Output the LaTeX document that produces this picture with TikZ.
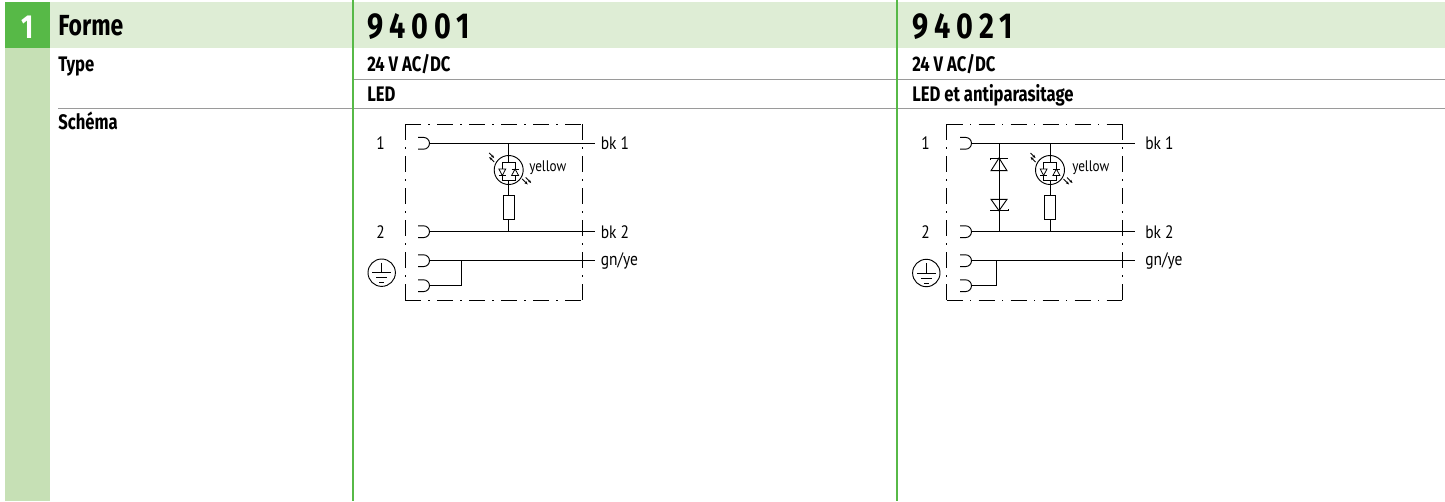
\documentclass[tikz,border=0pt]{standalone}
\usepackage{fontspec}
\setmainfont[FakeStretch=0.86,BoldFont={Fira Sans Bold},BoldFeatures={FakeStretch=0.79}]{PT Sans}
\newfontfamily\digitfont[FakeStretch=0.8,LetterSpace=17]{Fira Sans Bold}
\usetikzlibrary{arrows.meta}
\definecolor{boxgreen}{HTML}{57B947}
\definecolor{stripgreen}{HTML}{C6E0B5}
\definecolor{bandgreen}{HTML}{DEEDD5}
\definecolor{rulegrey}{HTML}{9A9A9A}
\tikzset{
    headtext/.style={anchor=base west,inner sep=0pt,font=\fontsize{21.8}{24}\selectfont\bfseries},
    numtext/.style={anchor=base west,inner sep=0pt,font=\digitfont\fontsize{27}{30}\selectfont},
    rowtext/.style={anchor=base west,inner sep=0pt,font=\fontsize{15.8}{18}\selectfont\bfseries},
    schtext/.style={anchor=base west,inner sep=0pt,font=\fontsize{13.5}{15}\selectfont},
    smalltext/.style={anchor=base west,inner sep=0pt,font=\fontsize{11.5}{13}\selectfont},
    frameline/.style={line width=0.6pt,dash pattern=on 12pt off 5.6pt on 0.8pt off 5.6pt},
    wire/.style={line width=0.7pt},
    thinwire/.style={line width=0.6pt},
    tinyarrow/.style={thinwire,-{Stealth[length=2.5pt,width=2pt]}}
}
% socket of a contact, tied to the wire end
\newcommand{\contact}[1]{\draw[wire] ([xshift=-8.6pt,yshift=4.4pt]#1) -- ([xshift=-4.4pt,yshift=4.4pt]#1) arc (90:-90:4.4pt) -- ([xshift=-8.6pt,yshift=-4.4pt]#1);}
% lamp with its resistor
\newcommand{\ledbranch}[1]{
    \draw[wire] (#1,143.3) -- (#1,195);
    \draw[wire] (#1,219.3) -- (#1,231.7);
    \draw[wire,fill=white] (#1-5.4,195) rectangle (#1+5.4,219.3);
    \draw[wire] (#1,170) circle (14.5);
    \draw[thinwire,fill=white] (#1-6.4,162.3) rectangle (#1+6.4,180);
    \draw[thinwire,fill=white] (#1-9.8,169) -- (#1-3,169) -- (#1-6.4,175.5) -- cycle;
    \draw[thinwire] (#1-9.8,175.5) -- (#1-3,175.5);
    \draw[thinwire,fill=white] (#1+2.9,175.5) -- (#1+9.9,175.5) -- (#1+6.4,169) -- cycle;
    \draw[thinwire] (#1+2.9,169) -- (#1+9.9,169);
    \draw[tinyarrow] (#1-14.5,162) -- (#1-19.5,157);
    \draw[tinyarrow] (#1-19.5,153) -- (#1-14.5,158);
    \draw[tinyarrow] (#1+13.5,179) -- (#1+19,184.5);
    \draw[tinyarrow] (#1+17,177.5) -- (#1+22.5,183);
}
% earth sign in a circle
\newcommand{\earthsign}[2]{
    \draw[wire] (#1,#2) circle (13.7);
    \draw[wire] (#1,#2-10) -- (#1,#2);
    \draw[wire] (#1-9.5,#2) -- (#1+9.5,#2);
    \draw[wire] (#1-5.5,#2+5) -- (#1+5.5,#2+5);
    \draw[wire] (#1-2.5,#2+10) -- (#1+2.5,#2+10);
}
\begin{document}
\begin{tikzpicture}[x=0.75pt,y=-0.75pt]
    \useasboundingbox (0,0) rectangle (1445,501);
    % Table
    \fill[bandgreen] (50,2) rectangle (1445,48);
    \fill[stripgreen] (5,48) rectangle (50,501);
    \fill[boxgreen] (5,2) rectangle (50,48);
    \draw[rulegrey,line width=0.6pt] (353,79) -- (1445,79);
    \draw[rulegrey,line width=0.6pt] (58,108) -- (1445,108);
    \draw[boxgreen,line width=0.9pt] (353,0) -- (353,501);
    \draw[boxgreen,line width=0.9pt] (897,0) -- (897,501);
    \node[headtext,white,font=\fontsize{25}{28}\selectfont\bfseries,anchor=base] (num) at (27.5,38) {1};
    \node[headtext] (forme) at (58,35) {Forme};
    \node[rowtext] (type) at (58,71) {Type};
    \node[rowtext] (schema) at (58,129) {Schéma};
    \node[numtext] (numa) at (367,38) {94001};
    \node[numtext] (numb) at (912,38) {94021};
    \node[rowtext] (volta) at (367,71) {24 V AC/DC};
    \node[rowtext] (voltb) at (912,71) {24 V AC/DC};
    \node[rowtext] (leda) at (367,101) {LED};
    \node[rowtext] (ledb) at (912,101) {LED et antiparasitage};
    % Schema 94001
    \draw[frameline] (405,124) -- (582,124);
    \draw[frameline] (405,124) -- (405,300);
    \draw[frameline] (582,124) -- (582,300);
    \draw[frameline] (405,300) -- (582,300);
    \foreach \n/\y in {a/143.3,b/231.7,c/260.7,d/285.7} {\coordinate (l\n) at (429.5,\y);}
    \coordinate (ra) at (595,143.3);
    \coordinate (rb) at (595,231.7);
    \coordinate (rc) at (595,260.7);
    \coordinate (tie) at (461,260.7);
    \draw[wire] (la) -- (ra);
    \draw[wire] (lb) -- (rb);
    \draw[wire] (lc) -- (rc);
    \draw[wire] (ld) -| (tie);
    \foreach \n in {la,lb,lc,ld} {\contact{\n}}
    \ledbranch{508.7}
    \earthsign{381.7}{272.7}
    \node[schtext] (pa) at (376,149) {1};
    \node[schtext] (pb) at (376,238) {2};
    \node[schtext] (bka) at (600.5,149) {bk 1};
    \node[schtext] (bkb) at (600.5,238) {bk 2};
    \node[schtext] (gna) at (600.5,265) {gn/ye};
    \node[smalltext] (yela) at (529,171) {yellow};
    % Schema 94021
    \draw[frameline] (946.7,124) -- (1122,124);
    \draw[frameline] (946.7,124) -- (946.7,300);
    \draw[frameline] (1122,124) -- (1122,300);
    \draw[frameline] (946.7,300) -- (1122,300);
    \foreach \n/\y in {a/143.3,b/231.7,c/260.7,d/285.7} {\coordinate (m\n) at (971.5,\y);}
    \coordinate (sa) at (1135,143.3);
    \coordinate (sb) at (1135,231.7);
    \coordinate (sc) at (1135,260.7);
    \coordinate (tiex) at (996.7,260.7);
    \draw[wire] (ma) -- (sa);
    \draw[wire] (mb) -- (sb);
    \draw[wire] (mc) -- (sc);
    \draw[wire] (md) -| (tiex);
    \foreach \n in {ma,mb,mc,md} {\contact{\n}}
    \ledbranch{1050}
    \earthsign{926.3}{273}
    % Suppressor diodes
    \draw[wire] (999,143.3) -- (999,231.7);
    \draw[wire] (991,170.7) -- (1007,170.7) -- (999,158) -- cycle;
    \draw[wire] (990,160) -- (990,158) -- (1008,158);
    \draw[wire] (991,199.3) -- (1007,199.3) -- (999,210.7) -- cycle;
    \draw[wire] (990,210.7) -- (1008,210.7) -- (1008,208.7);
    \node[schtext] (pc) at (921,149) {1};
    \node[schtext] (pd) at (921,238) {2};
    \node[schtext] (bkc) at (1145,149) {bk 1};
    \node[schtext] (bkd) at (1145,238) {bk 2};
    \node[schtext] (gnb) at (1145,265) {gn/ye};
    \node[smalltext] (yelb) at (1072,171) {yellow};
\end{tikzpicture}
\end{document}
